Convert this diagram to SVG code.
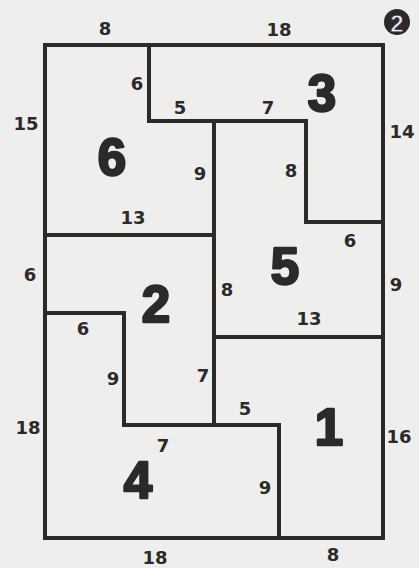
<svg xmlns="http://www.w3.org/2000/svg" width="419" height="568" viewBox="0 0 419 568">
<style>
.wall{fill:none;stroke:#2b2a2a;stroke-width:4;stroke-linecap:square}
.dim{font-family:"DejaVu Sans",Verdana,sans-serif;font-weight:bold;font-size:18px;fill:#2b2a2a;text-anchor:middle;dominant-baseline:central}
.big{font-family:"Liberation Sans",Arial,sans-serif;font-weight:bold;font-size:51px;fill:#2b2a2a;stroke:#2b2a2a;stroke-width:2.5;stroke-linejoin:round;text-anchor:middle;dominant-baseline:central}
</style>
<rect width="419" height="568" fill="#eeeeec"/>
<g id="connectors">
<rect class="wall" x="45" y="45" width="338" height="493"/>
<path class="wall" d="M149 45V121H306V222H383"/>
<path class="wall" d="M214 121V424"/>
<path class="wall" d="M45 235H214"/>
<path class="wall" d="M214 337H383"/>
<path class="wall" d="M45 313H124V425H279V538"/>
</g>
<g id="room6"><text class="big" x="112" y="157">6</text></g>
<g id="room3"><text class="big" x="322" y="93">3</text></g>
<g id="room2"><text class="big" x="156" y="304">2</text></g>
<g id="room5"><text class="big" x="285" y="266">5</text></g>
<g id="room4"><text class="big" x="138" y="480">4</text></g>
<g id="room1"><text class="big" x="329" y="427">1</text></g>
<g id="badge">
<circle cx="397" cy="22" r="13" fill="#2b2a2a"/>
<text x="397" y="23" font-family="Liberation Sans,Arial,sans-serif" font-weight="bold" font-size="24" fill="#eeeeec" stroke="#2b2a2a" stroke-width="0.8" text-anchor="middle" dominant-baseline="central">2</text>
</g>
<g id="labels">
<text class="dim" x="105" y="28">8</text>
<text class="dim" x="279" y="29">18</text>
<text class="dim" x="26" y="123">15</text>
<text class="dim" x="137" y="83">6</text>
<text class="dim" x="180" y="107">5</text>
<text class="dim" x="200" y="173">9</text>
<text class="dim" x="268" y="107">7</text>
<text class="dim" x="291" y="170">8</text>
<text class="dim" x="402" y="131">14</text>
<text class="dim" x="133" y="217">13</text>
<text class="dim" x="30" y="274">6</text>
<text class="dim" x="83" y="328">6</text>
<text class="dim" x="113" y="378">9</text>
<text class="dim" x="203" y="375">7</text>
<text class="dim" x="350" y="240">6</text>
<text class="dim" x="227" y="289">8</text>
<text class="dim" x="396" y="284">9</text>
<text class="dim" x="309" y="318">13</text>
<text class="dim" x="28" y="427">18</text>
<text class="dim" x="163" y="445">7</text>
<text class="dim" x="155" y="557">18</text>
<text class="dim" x="245" y="408">5</text>
<text class="dim" x="265" y="487">9</text>
<text class="dim" x="399" y="436">16</text>
<text class="dim" x="333" y="554">8</text>
</g>
</svg>
